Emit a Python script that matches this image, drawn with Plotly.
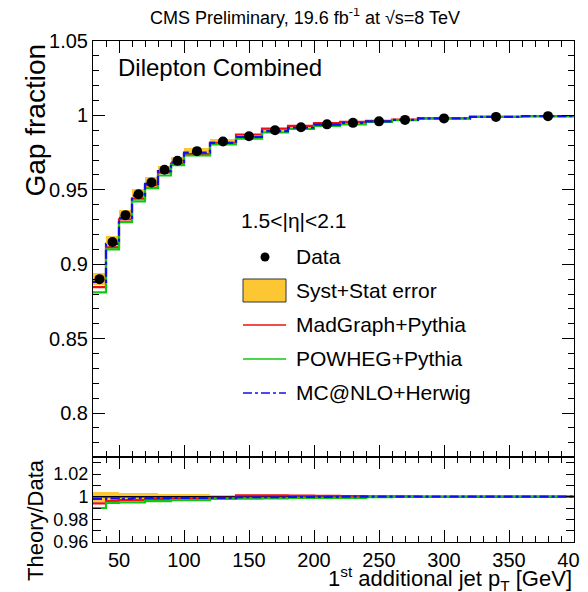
import plotly.graph_objects as go

# ---------------- data ----------------
bin_edges = [30, 40, 50, 60, 70, 80, 90, 100, 120, 140, 160, 180, 200, 220, 240, 260, 280, 320, 360, 400]
gap_data = [0.890, 0.915, 0.933, 0.947, 0.955, 0.9635, 0.9695, 0.976, 0.9825, 0.986,
            0.990, 0.992, 0.994, 0.995, 0.996, 0.997, 0.998, 0.999, 0.9995]
err_rel = [0.0045, 0.0045, 0.0035, 0.0035, 0.0035, 0.0025, 0.0025, 0.0025, 0.0015, 0.0010,
           0.0010, 0.0008, 0.0007, 0.0006, 0.0005, 0.0005, 0.0004, 0.0003, 0.0003]
ratio_madgraph = [0.994, 0.996, 0.997, 0.997, 0.998, 0.998, 0.998, 0.998, 0.999, 1.0012,
                  1.0012, 1.0010, 1.0008, 1.0006, 1.0003, 1.0002, 1.0001, 1.0, 1.0]
ratio_powheg = [0.990, 0.9945, 0.995, 0.995, 0.996, 0.996, 0.997, 0.997, 0.998, 0.9983,
                0.9985, 0.999, 0.999, 0.999, 0.9996, 0.9998, 0.9999, 1.0, 1.0]
ratio_mcatnlo = [0.998, 0.9985, 0.998, 0.999, 0.999, 0.999, 0.999, 0.999, 0.999, 0.9995,
                 0.9995, 0.9997, 0.9998, 1.0, 1.0, 1.0, 1.0, 1.0, 1.0]

x_ticks = [50, 100, 150, 200, 250, 300, 350, 400]
y_ticks_main = [0.8, 0.85, 0.9, 0.95, 1.0, 1.05]
y_ticks_ratio = [0.96, 0.98, 1.0, 1.02]

# ---------------- derived ----------------
centers = [(a + b) / 2 for a, b in zip(bin_edges[:-1], bin_edges[1:])]
widths = [b - a for a, b in zip(bin_edges[:-1], bin_edges[1:])]
err_abs = [d * r for d, r in zip(gap_data, err_rel)]

def step(vals):
    return list(bin_edges), list(vals) + [vals[-1]]

models = [
    ("MadGraph+Pythia", ratio_madgraph, "#f01010", "solid"),
    ("POWHEG+Pythia", ratio_powheg, "#10c810", "solid"),
    ("MC@NLO+Herwig", ratio_mcatnlo, "#1010f0", "dashdot"),
]

FONT = "Liberation Sans, Arial, Helvetica, sans-serif"
OFF = 8  # page body margin
W, H = 588 - OFF, 592 - OFF
ML, MT = 93 - OFF, 41 - OFF
MR = W - (574 - OFF)
MB = H - (542 - OFF)
PW, PH = W - ML - MR, H - MT - MB
SPLIT = (542 - 457) / PH
BAND = "#fdc733"

def px2x(px):
    return (px - OFF - ML) / PW

def px2y(py):
    return (H - MB - (py - OFF)) / PH

fig = go.Figure()

# ---- main panel ----
fig.add_trace(go.Bar(x=centers, y=[2 * e for e in err_abs],
                     base=[d - e for d, e in zip(gap_data, err_abs)],
                     width=widths, marker=dict(color=BAND, line=dict(width=0)),
                     showlegend=False, xaxis="x", yaxis="y"))
for name, ratio, color, dash in models:
    vals = [d * r for d, r in zip(gap_data, ratio)]
    sx, sy = step(vals)
    fig.add_trace(go.Scatter(x=sx, y=sy, mode="lines", line=dict(shape="hv", color=color, width=2.2, dash=dash),
                             showlegend=False, xaxis="x", yaxis="y"))
fig.add_trace(go.Scatter(x=centers, y=gap_data, mode="markers",
                         marker=dict(color="black", size=10, symbol="circle"),
                         showlegend=False, xaxis="x", yaxis="y"))

# ---- ratio panel ----
fig.add_trace(go.Bar(x=centers, y=[2 * r for r in err_rel], base=[1 - r for r in err_rel],
                     width=widths, marker=dict(color=BAND, line=dict(width=0)),
                     showlegend=False, xaxis="x2", yaxis="y2"))
fig.add_trace(go.Scatter(x=[bin_edges[0], bin_edges[-1]], y=[1.0, 1.0], mode="lines",
                         line=dict(color="black", width=1.5), showlegend=False, xaxis="x2", yaxis="y2"))
for name, ratio, color, dash in models:
    sx, sy = step(ratio)
    fig.add_trace(go.Scatter(x=sx, y=sy, mode="lines", line=dict(shape="hv", color=color, width=2.2, dash=dash),
                             showlegend=False, xaxis="x2", yaxis="y2"))

axis_common = dict(showline=True, linecolor="black", linewidth=1, mirror="allticks",
                   ticks="inside", tickcolor="black", showgrid=False, zeroline=False,
                   ticklabeloverflow="allow", automargin=False,
                   tickfont=dict(family=FONT, size=20, color="black"))

fig.update_layout(
    width=W, height=H,
    margin=dict(l=ML, r=MR, t=MT, b=MB, autoexpand=False),
    paper_bgcolor="white", plot_bgcolor="white",
    barmode="overlay", bargap=0,
    showlegend=False,
    font=dict(family=FONT, color="black"),
    xaxis=dict(axis_common, range=[bin_edges[0], bin_edges[-1]], anchor="y", matches="x2",
               tickvals=x_ticks, showticklabels=False, ticklen=12,
               minor=dict(dtick=10, tick0=0, ticklen=6, ticks="inside", tickcolor="black")),
    yaxis=dict(axis_common, domain=[SPLIT, 1], range=[0.7705, 1.05], anchor="x",
               tickvals=y_ticks_main, ticktext=["0.8", "0.85", "0.9", "0.95", "1", "1.05"], ticklen=12,
               minor=dict(dtick=0.01, tick0=0, ticklen=6, ticks="inside", tickcolor="black")),
    xaxis2=dict(axis_common, range=[bin_edges[0], bin_edges[-1]], anchor="y2",
                tickvals=x_ticks, ticklen=12,
                minor=dict(dtick=10, tick0=0, ticklen=6, ticks="inside", tickcolor="black")),
    yaxis2=dict(axis_common, domain=[0, SPLIT], range=[0.96, 1.035], anchor="x2",
                tickvals=y_ticks_ratio, ticktext=["0.96", "0.98", "1", "1.02"], ticklen=8,
                tickfont=dict(family=FONT, size=18, color="black"),
                minor=dict(dtick=0.01, tick0=0, ticklen=8, ticks="inside", tickcolor="black")),
)

ann = []
ann.append(dict(text="CMS Preliminary, 19.6 fb<sup>-1</sup> at √s=8 TeV", x=px2x(305), y=px2y(16),
                xanchor="center", yanchor="middle", font=dict(size=18)))
ann.append(dict(text="Dilepton Combined", x=px2x(116), y=px2y(67), xanchor="left", yanchor="middle",
                font=dict(size=24)))
ann.append(dict(text="Gap fraction", x=px2x(35), y=px2y(42), xanchor="center", yanchor="top",
                textangle=-90, font=dict(size=28)))
ann.append(dict(text="Theory/Data", x=px2x(35), y=px2y(457), xanchor="center", yanchor="top",
                textangle=-90, font=dict(size=22)))
ann.append(dict(text="1<sup>st</sup> additional jet p<sub>T</sub> [GeV]", x=px2x(574), y=px2y(578),
                xanchor="right", yanchor="middle", font=dict(size=22)))

# legend (drawn manually to mimic ROOT TLegend)
leg_title = "1.5<|η|<2.1"
ann.append(dict(text=leg_title, x=px2x(239), y=px2y(221), xanchor="left", yanchor="middle", font=dict(size=21)))
leg_rows = [("Data", 257), ("Syst+Stat error", 290), ("MadGraph+Pythia", 324), ("POWHEG+Pythia", 358), ("MC@NLO+Herwig", 392)]
for text, py in leg_rows:
    ann.append(dict(text=text, x=px2x(294), y=px2y(py), xanchor="left", yanchor="middle", font=dict(size=21)))
for a in ann:
    a.update(xref="paper", yref="paper", showarrow=False)
    a["font"] = dict(family=FONT, color="black", size=a["font"]["size"])

shapes = []
shapes.append(dict(type="circle", x0=px2x(260.5), x1=px2x(269.5), y0=px2y(261.5), y1=px2y(252.5),
                   fillcolor="black", line=dict(color="black", width=0)))
shapes.append(dict(type="rect", x0=px2x(243), x1=px2x(286), y0=px2y(302), y1=px2y(279),
                   fillcolor=BAND, line=dict(color="#333333", width=1)))
for (name, ratio, color, dash), py in zip(models, [325, 359, 393]):
    shapes.append(dict(type="line", x0=px2x(243), x1=px2x(286), y0=px2y(py), y1=px2y(py),
                       line=dict(color=color, width=1.5, dash=dash)))
for s in shapes:
    s.update(xref="paper", yref="paper")

fig.update_layout(annotations=ann, shapes=shapes)
fig.write_html("out.html")
